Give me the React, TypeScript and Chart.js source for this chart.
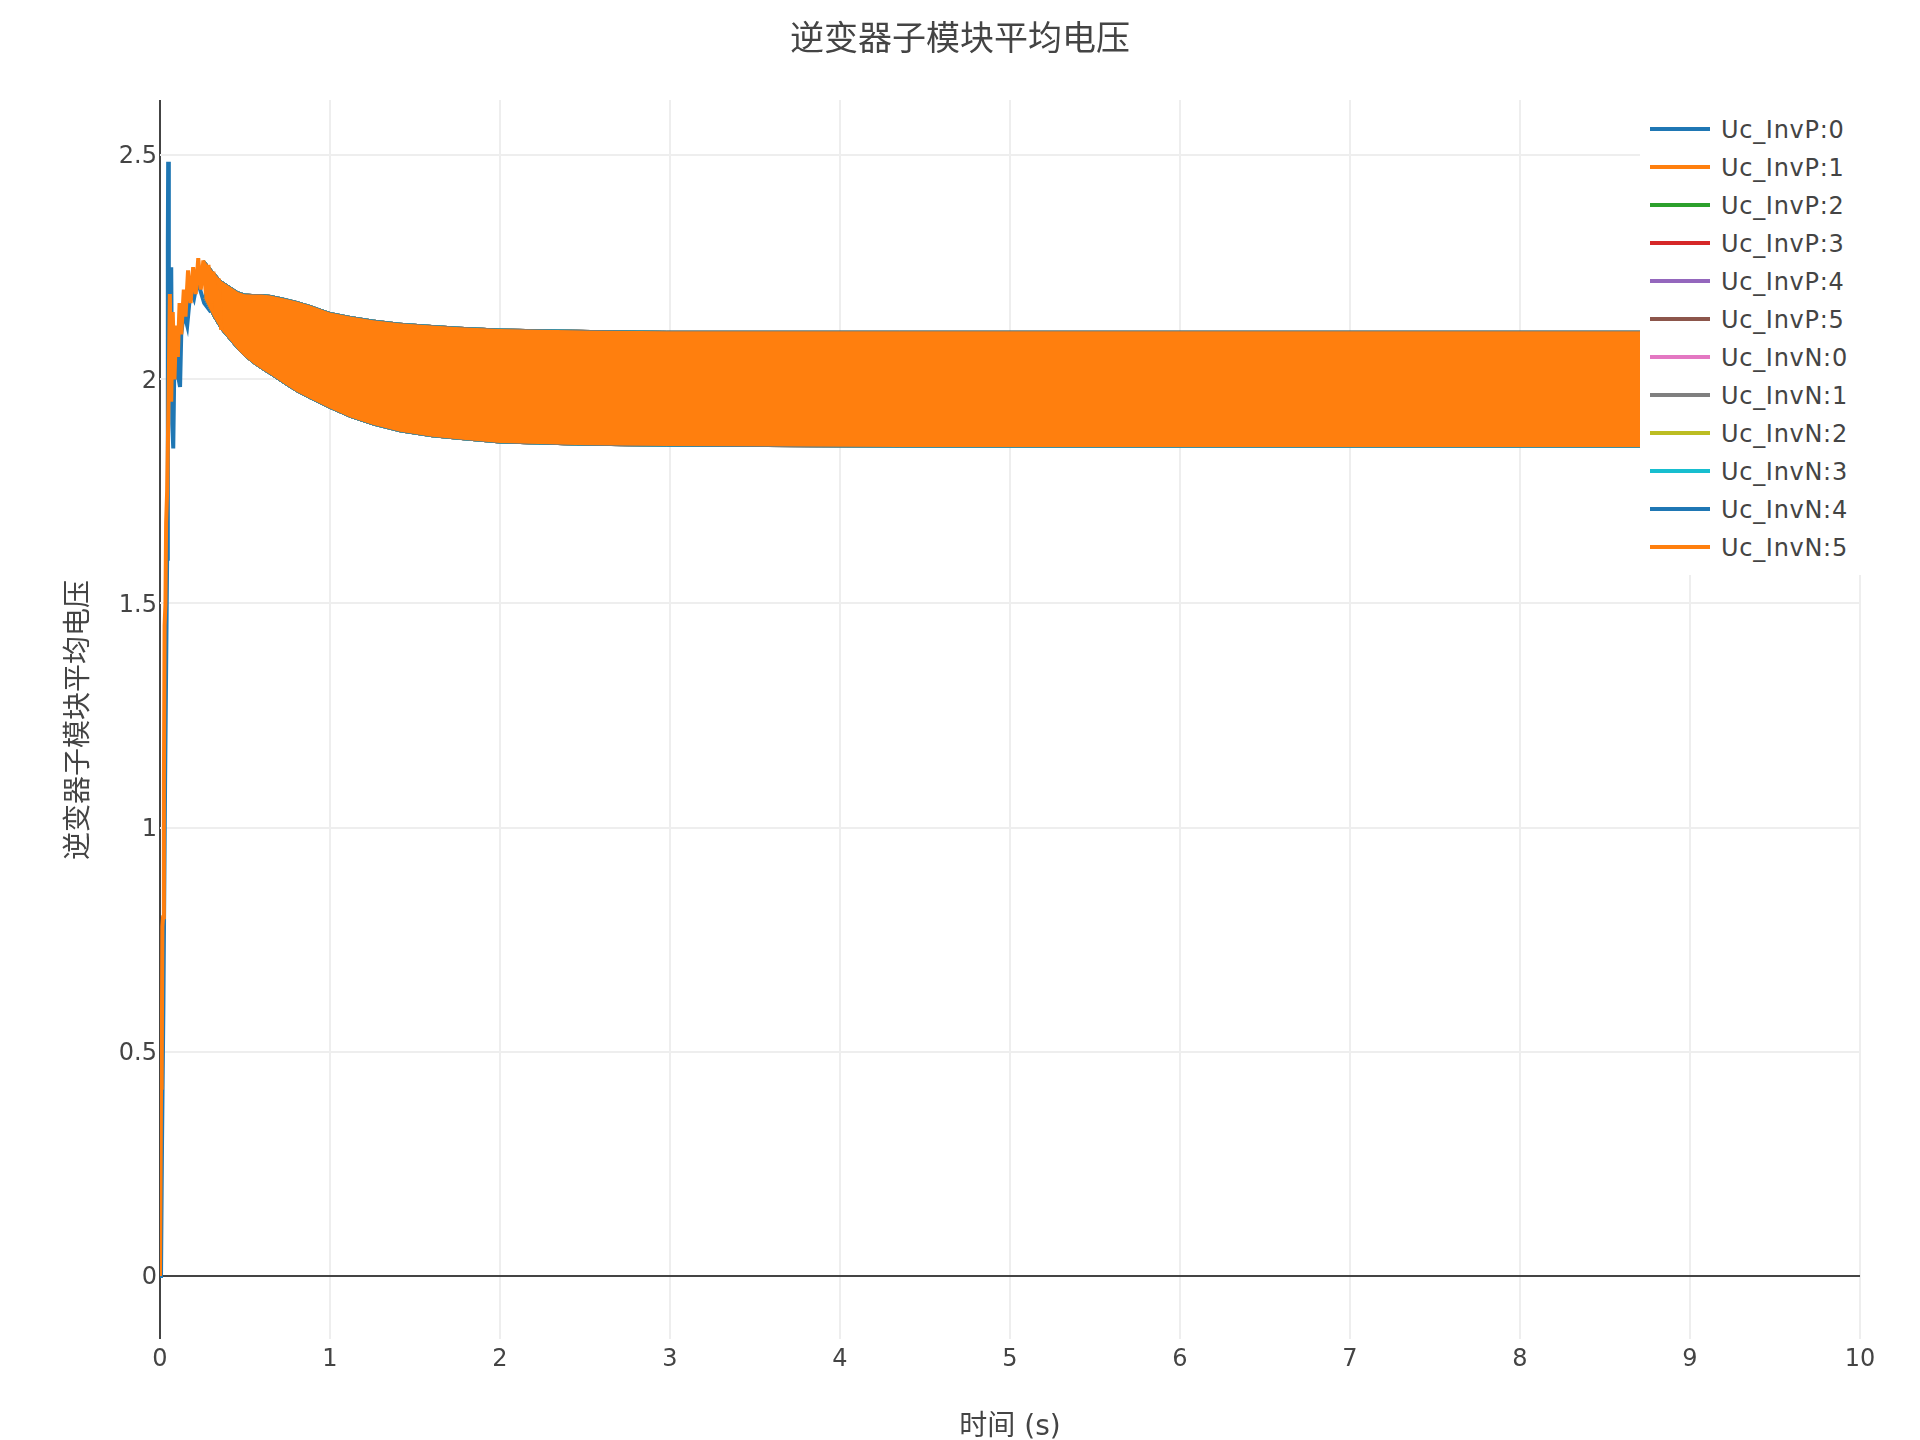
import React, { useEffect, useRef } from "react";
import { Chart, registerables } from "chart.js";

Chart.register(...registerables);

// ---------- data ----------
const chartTitle = "逆变器子模块平均电压";
const xAxisTitle = "时间 (s)";
const yAxisTitle = "逆变器子模块平均电压";

const seriesNames = [
  "Uc_InvP:0", "Uc_InvP:1", "Uc_InvP:2", "Uc_InvP:3", "Uc_InvP:4", "Uc_InvP:5",
  "Uc_InvN:0", "Uc_InvN:1", "Uc_InvN:2", "Uc_InvN:3", "Uc_InvN:4", "Uc_InvN:5",
];
const seriesColors = [
  "#1f77b4", "#ff7f0e", "#2ca02c", "#d62728", "#9467bd", "#8c564b",
  "#e377c2", "#7f7f7f", "#bcbd22", "#17becf", "#1f77b4", "#ff7f0e",
];

const xTicks = [0, 1, 2, 3, 4, 5, 6, 7, 8, 9, 10];
const yTicks = [0, 0.5, 1, 1.5, 2, 2.5];
const yTickLabels = ["0", "0.5", "1", "1.5", "2", "2.5"];

// oscillation envelope (steady band) of the sub-module voltages
const bandTime = [0.26, 0.314, 0.36, 0.42, 0.46, 0.5, 0.55, 0.6, 0.65, 0.725, 0.8, 0.88, 1.0, 1.12, 1.255, 1.412, 1.6, 1.765, 2.0, 2.5, 2.98, 4.35, 6.0, 8.0, 10.0];
const bandUpper = [2.265, 2.24, 2.22, 2.205, 2.195, 2.19, 2.189, 2.189, 2.187, 2.181, 2.174, 2.165, 2.149, 2.14, 2.132, 2.125, 2.12, 2.116, 2.112, 2.109, 2.107, 2.107, 2.107, 2.107, 2.107];
const bandLower = [2.18, 2.139, 2.11, 2.083, 2.065, 2.05, 2.035, 2.022, 2.01, 1.991, 1.973, 1.957, 1.935, 1.915, 1.898, 1.883, 1.872, 1.866, 1.858, 1.853, 1.851, 1.849, 1.849, 1.849, 1.849];

// start-up transient of Uc_InvP:0
const riseTimeP0 = [0, 0.006, 0.012, 0.02, 0.03, 0.042, 0.046, 0.048, 0.052, 0.056, 0.06, 0.066, 0.072, 0.078, 0.085, 0.092, 0.1, 0.11, 0.118, 0.125, 0.14, 0.16, 0.18, 0.2, 0.22, 0.26, 0.3];
const riseValueP0 = [0, 0, 0.3, 0.6, 1.1, 1.6, 2.3, 2.485, 2.2, 2.25, 2.05, 2.25, 1.9, 1.846, 2.05, 2.0, 2.1, 2.0, 1.983, 2.1, 2.15, 2.12, 2.2, 2.18, 2.22, 2.17, 2.15];

// start-up transient of Uc_InvN:5
const riseTimeN5 = [0, 0.003, 0.006, 0.01, 0.014, 0.018, 0.023, 0.027, 0.032, 0.036, 0.042, 0.05, 0.058, 0.066, 0.075, 0.085, 0.095, 0.105, 0.115, 0.125, 0.14, 0.15, 0.165, 0.18, 0.195, 0.21, 0.225, 0.24, 0.255, 0.27, 0.285, 0.3, 0.314, 0.33, 0.345, 0.36];
const riseValueN5 = [0, 0, 0.42, 0.44, 0.78, 0.8, 1.1, 1.45, 1.5, 1.68, 1.75, 1.95, 2.19, 1.95, 2.15, 2.0, 2.12, 2.05, 2.17, 2.1, 2.2, 2.14, 2.243, 2.17, 2.25, 2.19, 2.27, 2.2, 2.265, 2.19, 2.255, 2.17, 2.24, 2.14, 2.225, 2.11];

// ---------- layout constants ----------
const W = 1920;
const H = 1440;
const PLOT_LEFT = 160;
const PLOT_RIGHT = 1860;
const PLOT_TOP = 100;
const PLOT_BOTTOM = 1339;
const TEXT_COLOR = "#444";
const LATIN_FONT = "'DejaVu Sans', 'Noto Sans CJK SC', sans-serif";
const CJK_FONT = "'DejaVu Sans', 'Noto Sans CJK SC', sans-serif";

function toPoints(xs: number[], ys: number[]) {
  return xs.map((x, i) => ({ x, y: ys[i] }));
}

// draws the y tick labels through the y scale, nudged to match the reference baseline
const yLabelPlugin = {
  id: "yLabels",
  afterDraw(chart: any) {
    const scale = chart.scales.y;
    const ctx = chart.ctx;
    ctx.save();
    ctx.fillStyle = TEXT_COLOR;
    ctx.font = "24px " + LATIN_FONT;
    ctx.textAlign = "right";
    ctx.textBaseline = "middle";
    yTicks.forEach((v, i) => {
      const py = scale.getPixelForValue(v);
      ctx.fillText(yTickLabels[i], scale.right - 3, py + 2);
    });
    ctx.restore();
  },
};

export default function App() {
  const canvasRef = useRef<HTMLCanvasElement | null>(null);

  useEffect(() => {
    const canvas = canvasRef.current;
    if (!canvas) return;

    const datasets: any[] = [];

    datasets.push({
      label: seriesNames[0] + " start",
      data: toPoints(riseTimeP0, riseValueP0),
      borderColor: seriesColors[0],
      borderWidth: 4,
      pointRadius: 0,
      fill: false,
      tension: 0,
      order: 100,
    });

    seriesNames.forEach((name, i) => {
      const last = i === seriesNames.length - 1;
      const bw = last ? 0 : 1;
      datasets.push({
        label: name,
        data: toPoints(bandTime, bandUpper),
        borderColor: seriesColors[i],
        backgroundColor: seriesColors[i],
        borderWidth: bw,
        pointRadius: 0,
        fill: "+1",
        tension: 0,
        order: 50 - i,
      });
      datasets.push({
        label: name + " lower",
        data: toPoints(bandTime, bandLower),
        borderColor: seriesColors[i],
        borderWidth: bw,
        pointRadius: 0,
        fill: false,
        tension: 0,
        order: 50 - i,
      });
    });

    datasets.push({
      label: seriesNames[11] + " start",
      data: toPoints(riseTimeN5, riseValueN5),
      borderColor: seriesColors[11],
      borderWidth: 4,
      pointRadius: 0,
      fill: false,
      tension: 0,
      order: 0,
    });

    const gridColor = (ctx: any) =>
      ctx.tick && ctx.tick.value === 0 ? TEXT_COLOR : "#eeeeee";

    const chart = new Chart(canvas, {
      type: "line",
      data: { datasets },
      plugins: [yLabelPlugin],
      options: {
        animation: false,
        responsive: false,
        devicePixelRatio: 1,
        layout: {
          padding: { left: 0, right: W - PLOT_RIGHT, top: PLOT_TOP, bottom: 0 },
        },
        plugins: {
          legend: { display: false },
          title: { display: false },
          tooltip: { enabled: false },
        },
        scales: {
          x: {
            type: "linear",
            min: 0,
            max: 10,
            afterBuildTicks: (scale: any) => {
              scale.ticks = xTicks.map((v) => ({ value: v }));
            },
            afterFit: (scale: any) => {
              scale.height = H - PLOT_BOTTOM;
            },
            grid: { color: gridColor, lineWidth: 2, drawTicks: false },
            border: { display: false },
            ticks: {
              color: TEXT_COLOR,
              font: { family: LATIN_FONT, size: 24 },
              padding: 6,
              maxRotation: 0,
              callback: (v: any) => String(v),
            },
          },
          y: {
            type: "linear",
            min: -0.1405,
            max: 2.623,
            afterBuildTicks: (scale: any) => {
              scale.ticks = yTicks.map((v) => ({ value: v }));
            },
            afterFit: (scale: any) => {
              scale.width = PLOT_LEFT;
            },
            grid: { color: gridColor, lineWidth: 2, drawTicks: false },
            border: { display: false },
            ticks: {
              display: false,
            },
          },
        },
      },
    });

    return () => {
      chart.destroy();
    };
  }, []);

  const legendTop = PLOT_TOP;
  const firstItemY = 129.5;
  const itemStep = 38;

  return (
    <div
      style={{
        position: "absolute",
        left: 0,
        top: 0,
        width: W,
        height: H,
        background: "#fff",
        overflow: "hidden",
      }}
    >
      <canvas
        ref={canvasRef}
        width={W}
        height={H}
        style={{ position: "absolute", left: 0, top: 0, width: W, height: H }}
      />
      <div
        style={{
          position: "absolute",
          left: 0,
          width: W,
          top: 38 - 25,
          height: 50,
          lineHeight: "50px",
          textAlign: "center",
          fontFamily: CJK_FONT,
          fontSize: 34,
          color: TEXT_COLOR,
          whiteSpace: "nowrap",
        }}
      >
        {chartTitle}
      </div>
      <div
        style={{
          position: "absolute",
          left: PLOT_LEFT,
          width: PLOT_RIGHT - PLOT_LEFT,
          top: 1426 - 20,
          height: 40,
          lineHeight: "40px",
          textAlign: "center",
          fontFamily: CJK_FONT,
          fontSize: 28,
          color: TEXT_COLOR,
          whiteSpace: "nowrap",
        }}
      >
        {xAxisTitle}
      </div>
      <div
        style={{
          position: "absolute",
          left: 78 - 300,
          top: (PLOT_TOP + PLOT_BOTTOM) / 2 - 20,
          width: 600,
          height: 40,
          lineHeight: "40px",
          textAlign: "center",
          fontFamily: CJK_FONT,
          fontSize: 28,
          color: TEXT_COLOR,
          whiteSpace: "nowrap",
          transform: "rotate(-90deg)",
          transformOrigin: "50% 50%",
        }}
      >
        {yAxisTitle}
      </div>
      <div
        style={{
          position: "absolute",
          left: 1640,
          top: legendTop,
          width: W - 1640,
          height: 475,
          background: "#fff",
        }}
      >
        {seriesNames.map((name, i) => {
          const cy = firstItemY + itemStep * i - legendTop;
          return (
            <React.Fragment key={name}>
              <div
                style={{
                  position: "absolute",
                  left: 10,
                  top: cy - 3,
                  width: 60,
                  height: 4,
                  background: seriesColors[i],
                }}
              />
              <div
                style={{
                  position: "absolute",
                  left: 81,
                  top: cy - 16,
                  height: 32,
                  lineHeight: "32px",
                  fontFamily: LATIN_FONT,
                  fontSize: 24,
                  letterSpacing: "0.7px",
                  color: TEXT_COLOR,
                  whiteSpace: "nowrap",
                }}
              >
                {name}
              </div>
            </React.Fragment>
          );
        })}
      </div>
    </div>
  );
}
